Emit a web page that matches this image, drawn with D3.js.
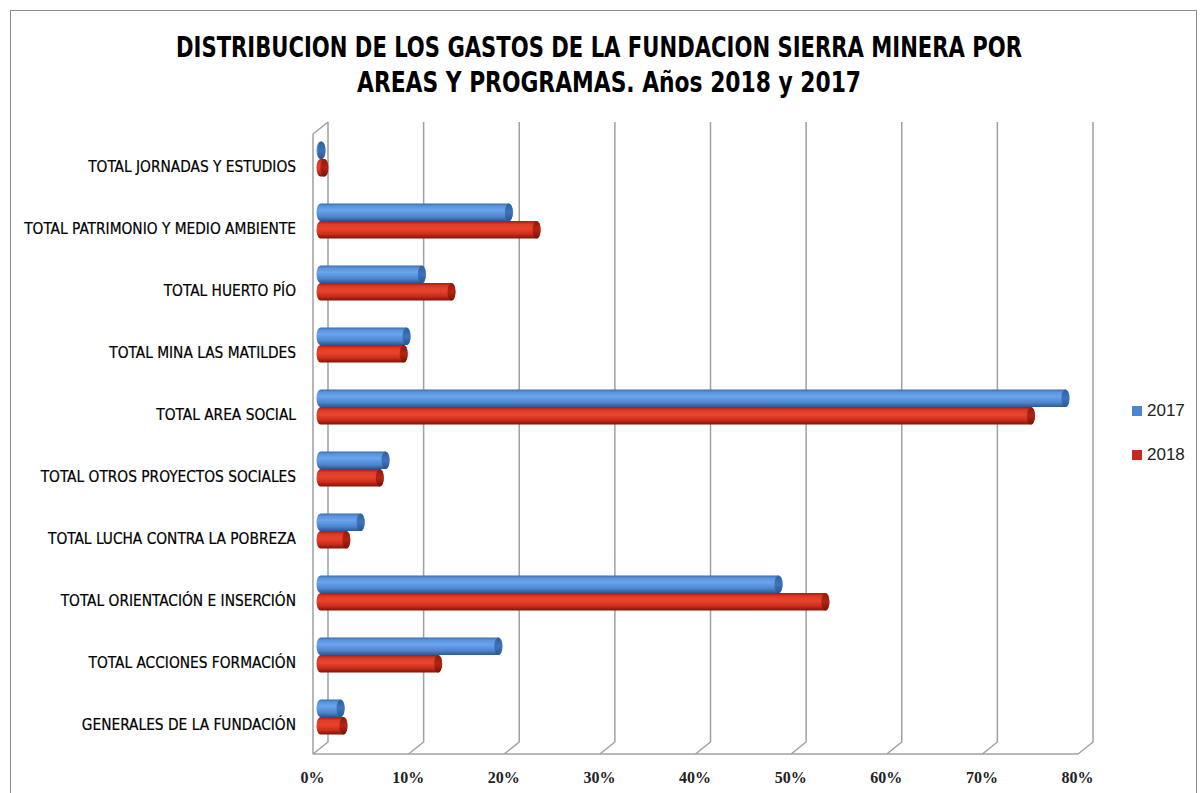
<!DOCTYPE html>
<html>
<head>
<meta charset="utf-8">
<script src="https://cdn.jsdelivr.net/npm/d3@7"></script>
<style>
  body { margin: 0; background: #fff; }
  svg { display: block; }
</style>
</head>
<body>
<div id="chart-area"></div>
<script>
// categorias, de arriba a abajo
var categories = [
    "TOTAL JORNADAS Y ESTUDIOS",
    "TOTAL PATRIMONIO Y MEDIO AMBIENTE",
    "TOTAL HUERTO PÍO",
    "TOTAL MINA LAS MATILDES",
    "TOTAL AREA SOCIAL",
    "TOTAL OTROS PROYECTOS SOCIALES",
    "TOTAL LUCHA CONTRA LA POBREZA",
    "TOTAL ORIENTACIÓN E INSERCIÓN",
    "TOTAL ACCIONES FORMACIÓN",
    "GENERALES DE LA FUNDACIÓN"
];
var series = ["2017", "2018"];
var values2017 = [0.1, 19.7, 10.6, 9.0, 77.9, 6.8, 4.2, 47.9, 18.6, 2.1];
var values2018 = [0.4, 22.6, 13.7, 8.7, 74.3, 6.2, 2.7, 52.8, 12.3, 2.4];
var ticks = [0, 10, 20, 30, 40, 50, 60, 70, 80];

var width = 1200, height = 793;
var depthX = 15, depthY = 12;

var svg = d3.select("#chart-area").append("svg")
    .attr("width", width)
    .attr("height", height);

// borde del grafico
svg.append("rect")
    .attr("x", 10.5).attr("y", 10.5)
    .attr("width", 1186).attr("height", 800)
    .attr("fill", "none")
    .attr("stroke", "#8c8c8c")
    .attr("stroke-width", 1);

// escalas: pared del fondo, frente y plano medio de las barras
var xBack = d3.scaleLinear().domain([0, 80]).range([328, 1093]);
var xFront = d3.scaleLinear().domain([0, 80]).range([328 - depthX, 1093 - depthX]);
var xMid = d3.scaleLinear().domain([0, 80]).range([328 - depthX / 2, 1093 - depthX / 2]);
var yTop = 122, yBottom = 742;

var y = d3.scaleBand()
    .domain(categories)
    .range([yTop + depthY / 2, yBottom + depthY / 2]);

var ySub = d3.scaleBand()
    .domain(series)
    .range([0, 35]);

var defs = svg.append("defs");
function grad(id, stops) {
    var g = defs.append("linearGradient").attr("id", id)
        .attr("x1", 0).attr("y1", 0).attr("x2", 0).attr("y2", 1);
    stops.forEach(function(s) {
        g.append("stop").attr("offset", s[0]).attr("stop-color", s[1]);
    });
}
grad("g2017", [[0, "#3a6cae"], [0.15, "#5b94dc"], [0.4, "#69a4ec"], [0.75, "#4d85cf"], [1, "#2b5890"]]);
grad("g2018", [[0, "#a51f10"], [0.2, "#dc3d28"], [0.45, "#e8442d"], [0.75, "#cb2d1b"], [1, "#7e1208"]]);
grad("c2017", [[0, "#2f5f9e"], [0.5, "#3f74bb"], [1, "#2a5590"]]);
grad("c2018", [[0, "#8f1a0c"], [0.5, "#b42414"], [1, "#7a1006"]]);

var grid = svg.append("g")
    .attr("fill", "none")
    .attr("stroke", "#a0a0a0")
    .attr("stroke-width", 1.5);

// lineas de division en la pared del fondo, con su quiebre hacia el suelo
grid.selectAll("path.tick-line").data(ticks).enter().append("path")
    .attr("class", "tick-line")
    .attr("d", function(d) {
        return "M" + xBack(d) + "," + yTop + "V" + yBottom + "L" + xFront(d) + "," + (yBottom + depthY);
    });

// pared izquierda y suelo
grid.append("path")
    .attr("d", "M" + xFront(0) + "," + (yBottom + depthY) + "V" + (yTop + depthY) + "L" + xBack(0) + "," + yTop);
grid.append("path")
    .attr("d", "M" + xFront(0) + "," + (yBottom + depthY) + "H" + xFront(80));

// barras cilindricas
var data = [];
categories.forEach(function(c, i) {
    data.push({ cat: c, year: "2017", value: values2017[i] });
    data.push({ cat: c, year: "2018", value: values2018[i] });
});

var h = ySub.bandwidth();
var rx = 4, ry = h / 2;
var bars = svg.append("g").selectAll("g.bar").data(data).enter().append("g")
    .attr("class", "bar");

function barTop(d) {
    return y(d.cat) + y.bandwidth() / 2 - 17.5 + ySub(d.year);
}

bars.append("path")
    .attr("fill", function(d) { return "url(#g" + d.year + ")"; })
    .attr("d", function(d) {
        var x0 = xMid(0), x1 = xMid(d.value), y0 = barTop(d);
        return "M" + x0 + "," + y0 + "H" + x1 +
            "A" + rx + "," + ry + " 0 0 1 " + x1 + "," + (y0 + h) +
            "H" + x0 +
            "A" + rx + "," + ry + " 0 0 1 " + x0 + "," + y0 + "Z";
    });

bars.append("ellipse")
    .attr("cx", function(d) { return xMid(d.value); })
    .attr("cy", function(d) { return barTop(d) + h / 2; })
    .attr("rx", rx)
    .attr("ry", ry)
    .attr("fill", function(d) { return "url(#c" + d.year + ")"; });

// etiquetas de categoria
var labelFont = "'Liberation Sans Narrow', 'DejaVu Sans Condensed', sans-serif";
svg.append("g").selectAll("text").data(categories).enter().append("text")
    .attr("x", 296)
    .attr("y", function(d) { return y(d) + y.bandwidth() / 2 + 13; })
    .attr("text-anchor", "end")
    .attr("font-family", labelFont)
    .attr("font-size", "15px")
    .attr("fill", "#000")
    .attr("stroke", "#000")
    .attr("stroke-width", 0.2)
    .text(function(d) { return d; })
    .each(function() {
        var w = this.getComputedTextLength();
        d3.select(this).attr("textLength", w * 1.02).attr("lengthAdjust", "spacingAndGlyphs");
    });

// eje x
var xAxisCall = d3.axisBottom(xFront)
    .tickValues(ticks)
    .tickSize(0)
    .tickFormat(function(d) { return d + "%"; });
var xAxisGroup = svg.append("g")
    .attr("transform", "translate(-1," + (yBottom + depthY) + ")")
    .call(xAxisCall);
xAxisGroup.select(".domain").remove();
xAxisGroup.selectAll("text")
    .attr("dy", 0)
    .attr("y", 29)
    .attr("font-family", "'Liberation Serif', serif")
    .attr("font-weight", "bold")
    .attr("font-size", "16px")
    .attr("fill", "#222");

// titulo
var title = svg.append("text")
    .attr("text-anchor", "middle")
    .attr("font-family", labelFont)
    .attr("font-weight", "bold")
    .attr("font-size", "28px")
    .attr("fill", "#000");
title.append("tspan").attr("x", 599).attr("y", 57)
    .attr("textLength", 846).attr("lengthAdjust", "spacingAndGlyphs")
    .text("DISTRIBUCION DE LOS GASTOS DE LA FUNDACION SIERRA MINERA POR");
title.append("tspan").attr("x", 609).attr("y", 92)
    .attr("textLength", 504).attr("lengthAdjust", "spacingAndGlyphs")
    .text("AREAS Y PROGRAMAS. Años 2018 y  2017");

// leyenda
var legend = svg.append("g").selectAll("g").data(series).enter().append("g")
    .attr("transform", function(d, i) { return "translate(1132," + (406 + i * 44) + ")"; });
legend.append("rect")
    .attr("width", 10).attr("height", 10)
    .attr("fill", function(d) { return d === "2017" ? "#4a86d0" : "#c8281e"; });
legend.append("text")
    .attr("x", 15).attr("y", 10)
    .attr("font-family", "'Liberation Sans', sans-serif")
    .attr("font-size", "17px")
    .attr("fill", "#222")
    .text(function(d) { return d; });
</script>
</body>
</html>
